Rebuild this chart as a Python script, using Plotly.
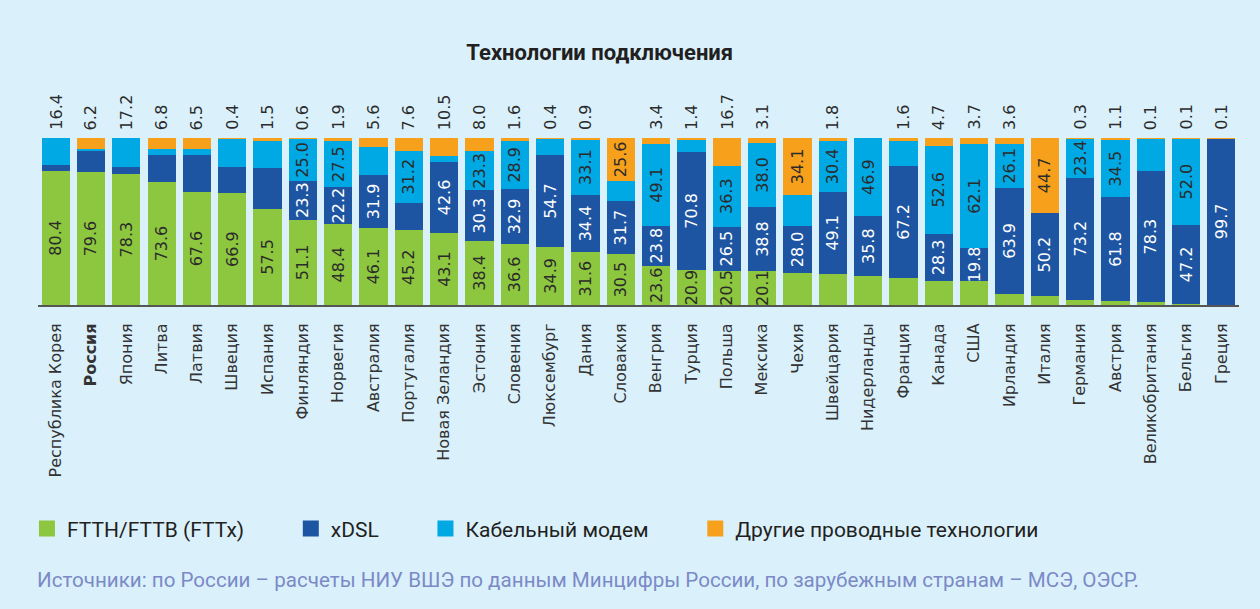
import plotly.graph_objects as go

countries = ["Республика Корея", "Россия", "Япония", "Литва", "Латвия", "Швеция", "Испания",
             "Финляндия", "Норвегия", "Австралия", "Португалия", "Новая Зеландия", "Эстония",
             "Словения", "Люксембург", "Дания", "Словакия", "Венгрия", "Турция", "Польша",
             "Мексика", "Чехия", "Швейцария", "Нидерланды", "Франция", "Канада", "США",
             "Ирландия", "Италия", "Германия", "Австрия", "Великобритания", "Бельгия", "Греция"]

fttx = [80.4, 79.6, 78.3, 73.6, 67.6, 66.9, 57.5, 51.1, 48.4, 46.1, 45.2, 43.1, 38.4, 36.6,
        34.9, 31.6, 30.5, 23.6, 20.9, 20.5, 20.1, 19.3, 18.7, 17.3, 16.2, 14.4, 14.4, 6.4,
        5.1, 3.1, 2.6, 1.8, 0.7, 0.2]
xdsl = [3.2, 12.6, 4.5, 16.2, 22.0, 15.7, 24.5, 23.3, 22.2, 31.9, 16.0, 42.6, 30.3, 32.9,
        54.7, 34.4, 31.7, 23.8, 70.8, 26.5, 38.8, 28.0, 49.1, 35.8, 67.2, 28.3, 19.8, 63.9,
        50.2, 73.2, 61.8, 78.3, 47.2, 99.7]
cable = [16.4, 1.4, 17.2, 3.4, 3.7, 16.8, 16.5, 25.0, 27.5, 16.4, 31.2, 3.8, 23.3, 28.9,
         10.0, 33.1, 12.2, 49.1, 6.9, 36.3, 38.0, 18.6, 30.4, 46.9, 15.0, 52.6, 62.1, 26.1,
         0.0, 23.4, 34.5, 19.8, 52.0, 0.0]
other = [0.0, 6.2, 0.0, 6.8, 6.5, 0.4, 1.5, 0.6, 1.9, 5.6, 7.6, 10.5, 8.0, 1.6,
         0.4, 0.9, 25.6, 3.4, 1.4, 16.7, 3.1, 34.1, 1.8, 0.0, 1.6, 4.7, 3.7, 3.6,
         44.7, 0.3, 1.1, 0.1, 0.1, 0.1]

# which values are printed inside their segment (1) or not (0)
fttx_shown = [1] * 21 + [0] * 13
xdsl_shown = [0, 0, 0, 0, 0, 0, 0, 1, 1, 1, 0, 1, 1, 1, 1, 1, 1, 1, 1, 1, 1, 1, 1, 1, 1, 1,
              1, 1, 1, 1, 1, 1, 1, 1]
cable_shown = [0, 0, 0, 0, 0, 0, 0, 1, 1, 0, 1, 0, 1, 1, 0, 1, 0, 1, 0, 1, 1, 0, 1, 1, 0, 1,
               1, 1, 0, 1, 1, 0, 1, 0]
other_shown = [0] * 16 + [1] + [0] * 4 + [1] + [0] * 6 + [1] + [0] * 5
# labels printed above the bars
top_labels = [16.4, 6.2, 17.2, 6.8, 6.5, 0.4, 1.5, 0.6, 1.9, 5.6, 7.6, 10.5, 8.0, 1.6,
              0.4, 0.9, None, 3.4, 1.4, 16.7, 3.1, None, 1.8, None, 1.6, 4.7, 3.7, 3.6,
              None, 0.3, 1.1, 0.1, 0.1, 0.1]

series_names = ["FTTH/FTTB (FTTx)", "xDSL", "Кабельный модем", "Другие проводные технологии"]
colors = ["#8DC63F", "#1D55A2", "#00A8E4", "#F7A01C"]
text_colors = ["#2b2b2b", "#ffffff", "#2b2b2b", "#2b2b2b"]

BG = "#DAF1FC"
LABEL_FONT = "DejaVu Sans"
MAIN_FONT = "Roboto"
PAD = "\u00a0" * 8

fig = go.Figure()
for name, vals, shown, col, tcol in zip(series_names, [fttx, xdsl, cable, other],
                                        [fttx_shown, xdsl_shown, cable_shown, other_shown],
                                        colors, text_colors):
    fig.add_trace(go.Bar(
        x=countries, y=vals, name=name, marker=dict(color=col, line=dict(width=0)),
        text=[f"{v:.1f}" if s else "" for v, s in zip(vals, shown)],
        textposition="inside", insidetextanchor="middle", textangle=-90,
        constraintext="none", cliponaxis=False,
        textfont=dict(family=LABEL_FONT, size=16, color=tcol),
        showlegend=False,
    ))
    fig.add_trace(go.Scatter(
        x=[None], y=[None], mode="markers", name=name + PAD,
        marker=dict(symbol="square", size=18, color=col), showlegend=True,
    ))

for c, t in zip(countries, top_labels):
    if t is None:
        continue
    fig.add_annotation(x=c, y=100, xref="x", yref="y", text=f"{t:.1f}", showarrow=False,
                       textangle=-90, xanchor="center", yanchor="bottom", yshift=6,
                       font=dict(family=LABEL_FONT, size=16, color="#2b2b2b"))

ticktext = [f"<b>{c}</b>" if c == "Россия" else c for c in countries]

fig.update_layout(
    width=1260, height=609,
    paper_bgcolor=BG, plot_bgcolor=BG,
    barmode="stack", bargap=0.2,
    margin=dict(l=38, r=21, t=138, b=304),
    title=dict(text="<b>Технологии подключения</b>", x=0.476, xanchor="center",
               y=1 - 52 / 609, yanchor="middle",
               font=dict(family=MAIN_FONT, size=22, color="#231f20")),
    xaxis=dict(categoryorder="array", categoryarray=countries, tickvals=countries,
               ticktext=ticktext, tickangle=-90, showgrid=False, zeroline=False,
               showline=True, linecolor="#555555", linewidth=2, ticks="",
               ticklabelstandoff=10,
               tickfont=dict(family=LABEL_FONT, size=16, color="#333333")),
    yaxis=dict(range=[0, 100], visible=False, showgrid=False, zeroline=False),
    legend=dict(orientation="h", x=-0.0092, xanchor="left", y=-1.341, yanchor="middle",
                font=dict(family=MAIN_FONT, size=21, color="#231f20"),
                bgcolor="rgba(0,0,0,0)", itemsizing="trace", itemwidth=30,
                traceorder="normal"),
    hovermode=False,
)

fig.add_annotation(
    x=-0.0025, y=-1.647, xref="paper", yref="paper", xanchor="left", yanchor="middle",
    text="Источники: по России – расчеты НИУ ВШЭ по данным Минцифры России, по зарубежным странам – МСЭ, ОЭСР.",
    showarrow=False, font=dict(family=MAIN_FONT, size=20.6, color="#7B8AC6"),
)

fig.write_html("out.html")
